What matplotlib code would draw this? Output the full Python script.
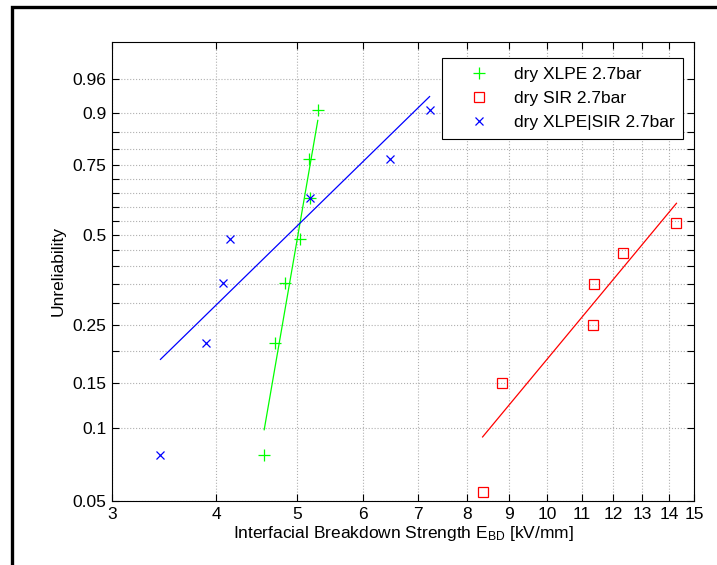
import numpy as np
import matplotlib
matplotlib.use('Agg')
import matplotlib.pyplot as plt
from matplotlib.ticker import FixedLocator, NullLocator, FixedFormatter
from matplotlib.patches import Rectangle

# dados (campo de ruptura em kV/mm, probabilidade acumulada)
xlpe_E = [4.57, 4.71, 4.84, 5.04, 5.18, 5.17, 5.30]
xlpe_F = [0.077, 0.214, 0.351, 0.489, 0.630, 0.767, 0.905]

sir_E = [8.36, 8.81, 11.33, 11.39, 12.31, 14.29]
sir_F = [0.0545, 0.151, 0.25, 0.349, 0.443, 0.541]

mix_E = [3.43, 3.89, 4.08, 4.16, 5.18, 6.47, 7.22]
mix_F = [0.077, 0.214, 0.351, 0.489, 0.630, 0.767, 0.905]

# ajuste de Weibull (beta, eta)
xlpe_fit = (20.45, 5.107)
sir_fit = (4.27, 14.47)
mix_fit = (3.46, 5.42)

y_ticks = [0.05, 0.1, 0.15, 0.2, 0.25, 0.3, 0.35, 0.4, 0.45, 0.5, 0.55,
           0.6, 0.65, 0.7, 0.75, 0.8, 0.85, 0.9, 0.96]
y_labels = ['0.05', '0.1', '0.15', '', '0.25', '', '', '', '', '0.5', '',
            '', '', '', '0.75', '', '', '0.9', '0.96']
x_ticks = [3, 4, 5, 6, 7, 8, 9, 10, 11, 12, 13, 14, 15]


def fwd(F):
    F = np.clip(np.asarray(F, dtype=float), 1e-9, 1 - 1e-12)
    return np.log(-np.log(1 - F))


def inv(w):
    return 1 - np.exp(-np.exp(np.asarray(w, dtype=float)))


def linha_weibull(E, fit):
    beta, eta = fit
    e = np.linspace(min(E), max(E), 50)
    return e, 1 - np.exp(-(e / eta) ** beta)


plt.rcParams['font.family'] = ['Liberation Sans', 'DejaVu Sans']
plt.rcParams['mathtext.default'] = 'regular'
fs = 12.5

fig = plt.figure(figsize=(7.17, 5.65), dpi=100)
ax = fig.add_axes([0.1562, 0.1133, 0.8117, 0.8124])

ax.plot(xlpe_E, xlpe_F, '+', color='#00ff00', ms=8, mew=0.9,
        label='dry XLPE 2.7bar', zorder=3)
ax.plot(sir_E, sir_F, 's', color='#ff0000', mfc='none', ms=7, mew=0.9,
        label='dry SIR 2.7bar', zorder=3)
ax.plot(mix_E, mix_F, 'x', color='#0000ff', ms=6, mew=0.9,
        label='dry XLPE|SIR 2.7bar', zorder=3)

for E, fit, c in [(xlpe_E, xlpe_fit, '#00ff00'),
                  (sir_E, sir_fit, '#ff0000'),
                  (mix_E, mix_fit, '#0000ff')]:
    e, F = linha_weibull(E, fit)
    ax.plot(e, F, '-', color=c, lw=0.9)

ax.set_xscale('log')
ax.set_yscale('function', functions=(fwd, inv))
ax.set_xlim(3, 15)
ax.set_ylim(0.05, 0.99)

ax.xaxis.set_major_locator(FixedLocator(x_ticks))
ax.xaxis.set_major_formatter(FixedFormatter([str(t) for t in x_ticks]))
ax.xaxis.set_minor_locator(NullLocator())
ax.yaxis.set_major_locator(FixedLocator(y_ticks))
ax.yaxis.set_major_formatter(FixedFormatter(y_labels))
ax.yaxis.set_minor_locator(NullLocator())

ax.tick_params(direction='in', top=True, right=True, length=5, width=0.8,
               labelsize=fs, pad=4)
ax.grid(True, linestyle=':', color='#b0b0b0', linewidth=0.8)
for s in ax.spines.values():
    s.set_linewidth(0.8)

ax.set_xlabel('Interfacial Breakdown Strength E$_{BD}$ [kV/mm]', fontsize=fs, labelpad=2)
ax.set_ylabel('Unreliability', fontsize=fs, labelpad=5)

leg = ax.legend(loc='upper right', fontsize=fs, frameon=True, fancybox=False,
                edgecolor='black', framealpha=1, borderpad=0.5, handletextpad=0.4,
                handlelength=3.2, labelspacing=0.5, bbox_to_anchor=(0.996, 0.983))
leg.get_frame().set_linewidth(0.8)

# moldura externa (so a borda superior e esquerda aparecem)
fig.patches.append(Rectangle((11.5 / 717, -0.1), 1.2, 1.1 - 7.5 / 565,
                             transform=fig.transFigure, fill=False,
                             edgecolor='black', linewidth=2.4))

fig.savefig('out.png', dpi=100)
